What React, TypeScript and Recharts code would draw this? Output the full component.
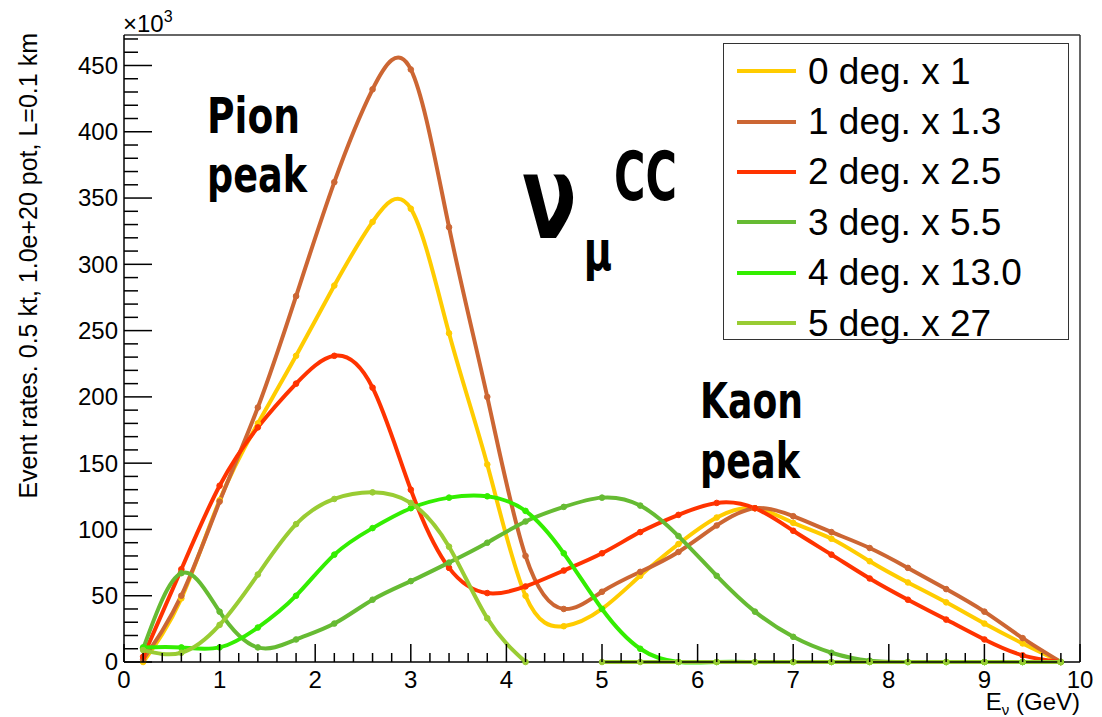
import { LineChart, Line, XAxis, YAxis, Legend } from "recharts";

// neutrino energy bins (GeV)
const energies = [0.2, 0.6, 1.0, 1.4, 1.8, 2.2, 2.6, 3.0, 3.4, 3.8, 4.2, 4.6, 5.0, 5.4, 5.8, 6.2, 6.6, 7.0, 7.4, 7.8, 8.2, 8.6, 9.0, 9.4, 9.8];

// event rates (x10^3), already scaled as in the legend
const deg0 = [0, 48, 122, 180, 231, 284, 332, 342, 248, 149, 50, 27, 40, 65, 89, 109, 116, 105, 93, 76, 60, 45, 29, 14, 0];
const deg1 = [2, 50, 121, 192, 276, 362, 432, 447, 328, 200, 80, 40, 53, 68, 83, 103, 116, 110, 98, 86, 71, 55, 38, 18, 0];
const deg2 = [4, 70, 133, 177, 210, 231, 207, 130, 71, 52, 57, 69, 82, 98, 111, 120, 116, 99, 81, 63, 47, 32, 17, 5, 0];
const deg3 = [10, 67, 38, 11, 17, 29, 47, 61, 75, 90, 106, 117, 124, 118, 95, 65, 38, 19, 7, 1, 0, 0, 0, 0, 0];
const deg4 = [11, 11, 11, 26, 50, 81, 101, 116, 124, 125, 114, 82, 40, 10, 0, 0, 0, 0, 0, 0, 0, 0, 0, 0, 0];
const deg5 = [9, 7, 28, 66, 104, 123, 128, 120, 87, 33, 0, null, 0, 0, 0, 0, 0, 0, 0, 0, 0, 0, 0, 0, 0];

const seriesNames = ["0 deg. x 1", "1 deg. x 1.3", "2 deg. x 2.5", "3 deg. x 5.5", "4 deg. x 13.0", "5 deg. x 27"];
const seriesColors = ["#ffcc00", "#cc6633", "#ff3300", "#66bb33", "#33ee00", "#99cc33"];

const xTickLabels = [0, 1, 2, 3, 4, 5, 6, 7, 8, 9, 10];
const yTickLabels = [0, 50, 100, 150, 200, 250, 300, 350, 400, 450];

const allSeries = [deg0, deg1, deg2, deg3, deg4, deg5];
const data = energies.map((e, i) => {
  const row: Record<string, number | null> = { e };
  allSeries.forEach((s, k) => (row["d" + k] = s[i]));
  return row;
});

// minor ticks: 5 per major on x, 10-unit steps on y
const xTicks = Array.from({ length: 51 }, (_, i) => +(i * 0.2).toFixed(1));
const yTicks = Array.from({ length: 48 }, (_, i) => i * 10);

const font = "'Liberation Sans', Arial, Helvetica, sans-serif";
const boldFont = "'DejaVu Sans', sans-serif";

const XTick = (props: any) => {
  const { x, y, payload } = props;
  const v = payload.value;
  const major = xTickLabels.includes(v);
  return (
    <g>
      <line x1={x} y1={y} x2={x} y2={y - (major ? 18 : 9)} stroke="#000" strokeWidth={1.5} />
      {major && (
        <text x={x} y={y + 26} textAnchor="middle" fontSize={24} fontFamily={font} fill="#000">
          {v}
        </text>
      )}
    </g>
  );
};

const YTick = (props: any) => {
  const { x, y, payload } = props;
  const v = payload.value;
  const major = yTickLabels.includes(v);
  return (
    <g>
      <line x1={x} y1={y} x2={x + (major ? 28 : 14)} y2={y} stroke="#000" strokeWidth={1.5} />
      {major && (
        <text x={x - 6} y={y} dy="0.35em" textAnchor="end" fontSize={24} fontFamily={font} fill="#000">
          {v}
        </text>
      )}
    </g>
  );
};

const LegendBox = (props: any) => {
  const items = props.payload || [];
  return (
    <div
      style={{
        width: 346,
        height: 297,
        boxSizing: "border-box",
        border: "1.5px solid #333",
        background: "#fff",
        paddingTop: 2,
        fontFamily: font,
      }}
    >
      {items.map((it: any) => (
        <div key={it.value} style={{ height: 50.4, display: "flex", alignItems: "center" }}>
          <span style={{ display: "inline-block", width: 59, height: 4, marginLeft: 13, background: it.color }} />
          <span style={{ marginLeft: 12, fontSize: 37, color: "#000", lineHeight: 1 }}>{it.value}</span>
        </div>
      ))}
    </div>
  );
};

export default function App() {
  return (
    <div style={{ position: "absolute", left: 0, top: 0, width: 1102, height: 717, background: "#fff" }}>
      <LineChart width={1102} height={717} data={data} margin={{ top: 34, right: 21, bottom: 15, left: 64 }}>
        <XAxis
          dataKey="e"
          type="number"
          domain={[0, 10]}
          ticks={xTicks}
          interval={0}
          height={40}
          tickSize={0}
          tickMargin={0}
          tickLine={false}
          tick={<XTick />}
          axisLine={{ stroke: "#000", strokeWidth: 1.5 }}
        />
        <XAxis xAxisId="top" orientation="top" type="number" domain={[0, 10]} height={1} tick={false} tickLine={false} axisLine={{ stroke: "#333", strokeWidth: 1.5 }} />
        <YAxis
          type="number"
          domain={[0, 473]}
          ticks={yTicks}
          interval={0}
          width={60}
          tickSize={0}
          tickMargin={0}
          tickLine={false}
          tick={<YTick />}
          axisLine={{ stroke: "#000", strokeWidth: 1.5 }}
        />
        <YAxis yAxisId="right" orientation="right" type="number" domain={[0, 473]} width={1} tick={false} tickLine={false} axisLine={{ stroke: "#333", strokeWidth: 1.5 }} />
        {seriesNames.map((name, k) => (
          <Line
            key={name}
            type="natural"
            dataKey={"d" + k}
            name={name}
            stroke={seriesColors[k]}
            strokeWidth={4}
            dot={{ r: 2.8, fill: seriesColors[k], stroke: seriesColors[k], strokeWidth: 1 }}
            activeDot={false}
            connectNulls={false}
            isAnimationActive={false}
          />
        ))}
        <Legend
          layout="horizontal"
          verticalAlign="middle"
          align="center"
          content={<LegendBox />}
          wrapperStyle={{ left: 723, top: 43, width: 346, height: 297 }}
        />
      </LineChart>
      <svg width={1102} height={717} style={{ position: "absolute", left: 0, top: 0, pointerEvents: "none" }}>
        <text x={123} y={32} fontSize={24} fontFamily={font} fill="#000">
          ×10<tspan dy={-10} fontSize={16}>3</tspan>
        </text>
        <text transform="translate(37,33) rotate(-90)" textAnchor="end" fontSize={25} fontFamily={font} fill="#000">
          Event rates. 0.5 kt, 1.0e+20 pot, L=0.1 km
        </text>
        <text x={1080} y={710} textAnchor="end" fontSize={24} fontFamily={font} fill="#000">
          E<tspan fontSize={15} dy={5}>ν</tspan>
          <tspan dy={-5}> (GeV)</tspan>
        </text>
        <g fontFamily={boldFont} fontWeight="bold" fill="#000" fontSize={50}>
          <text x={207} y={133} textLength={93} lengthAdjust="spacingAndGlyphs">Pion</text>
          <text x={207} y={192} textLength={100} lengthAdjust="spacingAndGlyphs">peak</text>
          <text x={700} y={418} textLength={103} lengthAdjust="spacingAndGlyphs">Kaon</text>
          <text x={700} y={478} textLength={100} lengthAdjust="spacingAndGlyphs">peak</text>
          <text transform="translate(522,238) scale(0.7,1)">
            <tspan fontSize={115}>ν</tspan>
            <tspan fontSize={55} dx={10} dy={32}>μ</tspan>
          </text>
          <text x={614} y={200} fontSize={68} textLength={63} lengthAdjust="spacingAndGlyphs">CC</text>
        </g>
      </svg>
    </div>
  );
}
